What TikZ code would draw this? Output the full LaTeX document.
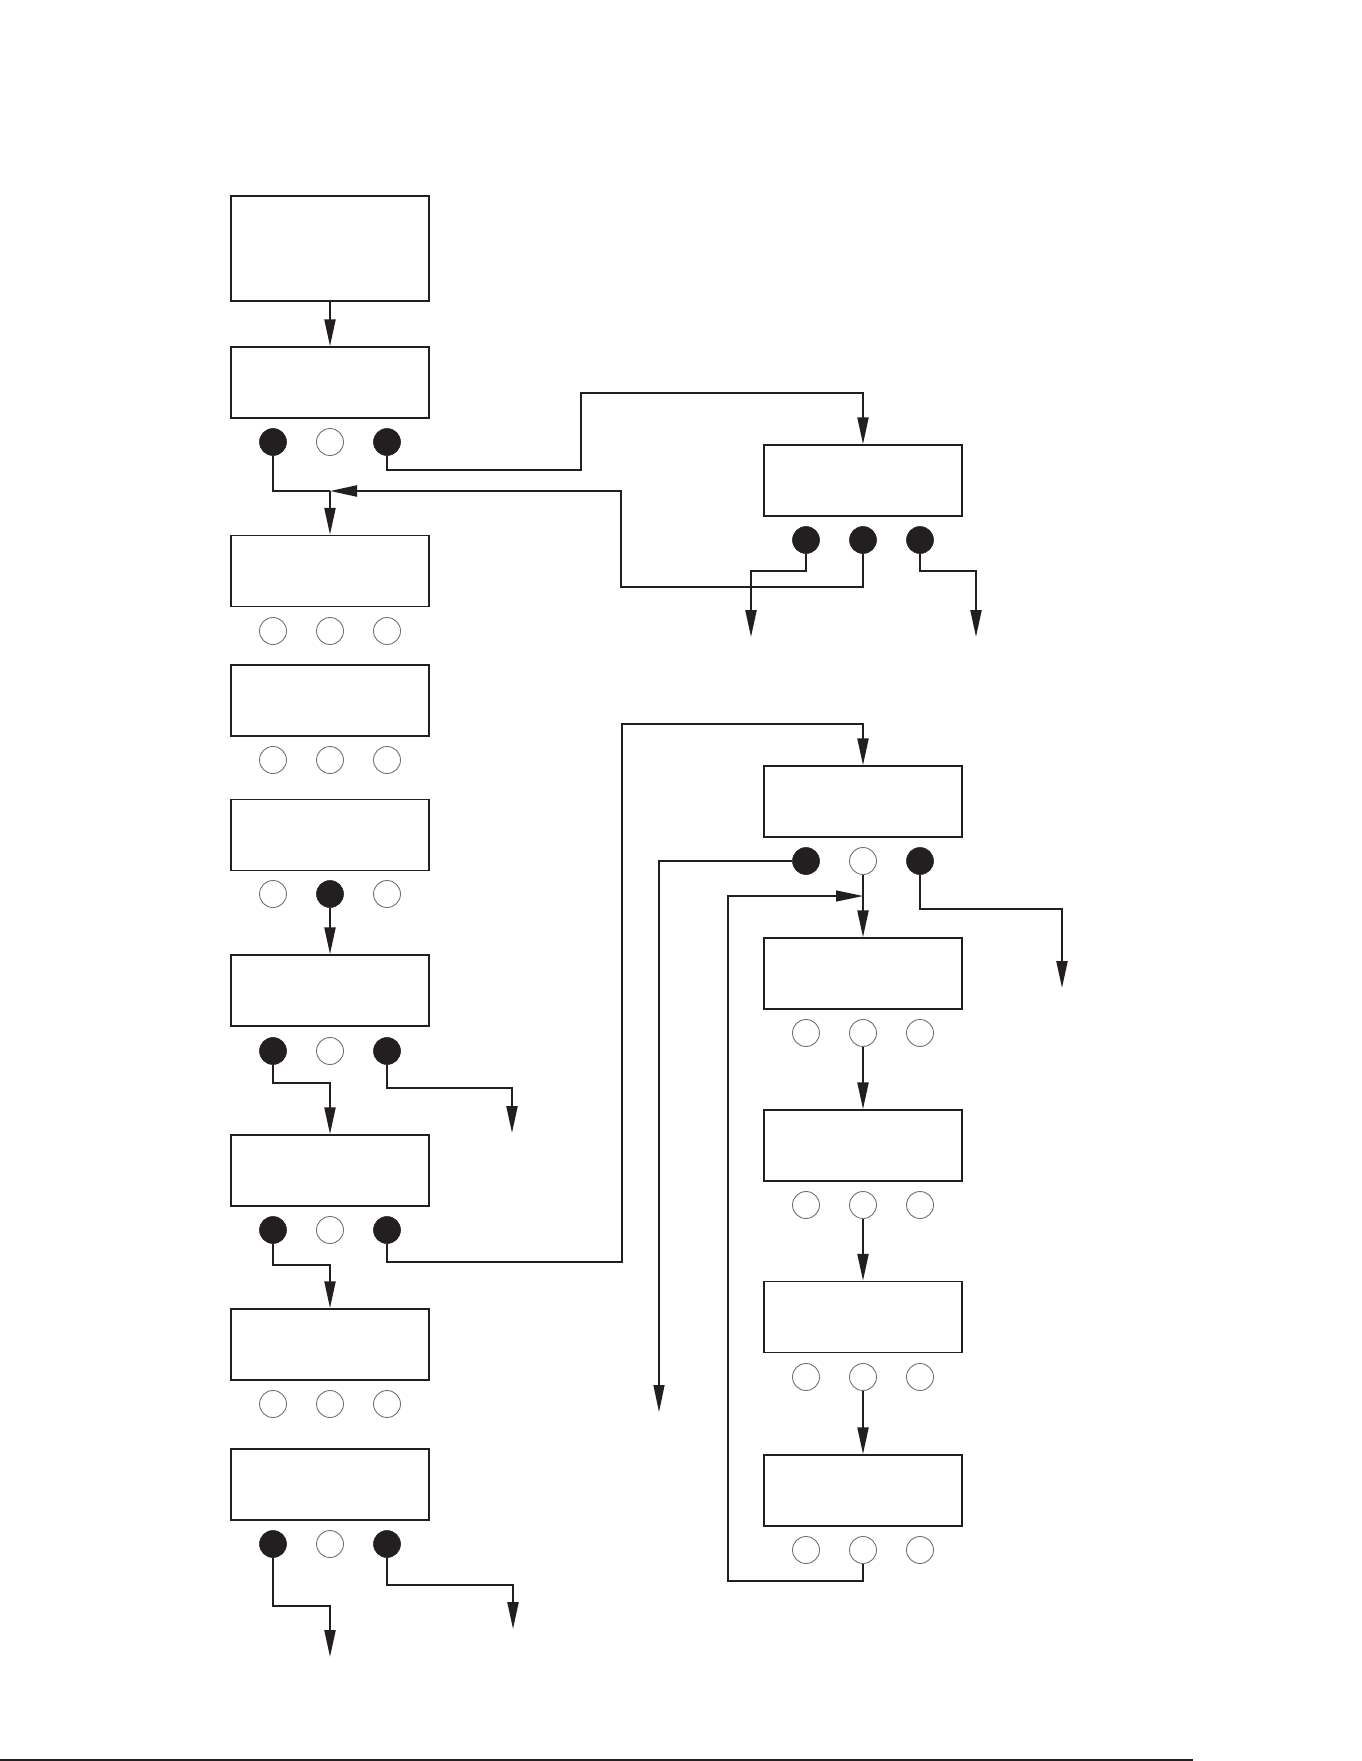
\documentclass[tikz,border=0pt]{standalone}
\usetikzlibrary{arrows.meta}
\definecolor{ink}{RGB}{35,31,32}
\newcommand\btnrow[6]{%
  \node[#4] (#1a) at ({#2-57},#3) {};
  \node[#5] (#1b) at (#2,#3) {};
  \node[#6] (#1c) at ({#2+57},#3) {};
}
\tikzset{
  box/.style={draw=ink, line width=0.75pt, minimum width=99pt, minimum height=35.5pt, inner sep=0pt},
  on/.style={circle, fill=ink, draw=ink, line width=0.3pt, minimum size=13.5pt, inner sep=0pt},
  off/.style={circle, draw=black!55, fill=white, line width=0.45pt, minimum size=13.5pt, inner sep=0pt},
  conn/.style={draw=ink, line width=1.1pt},
  thinconn/.style={draw=ink, line width=0.65pt},
  tip/.style={-{Triangle[length=13.5pt,width=5.5pt]}},
}
\begin{document}
\begin{tikzpicture}[x=0.5pt,y=-0.5pt]
\useasboundingbox (0,0) rectangle (1361,1761);
% left column
\node[box, minimum height=52.5pt] (b1) at (330,248.5) {};
\node[box] (b2) at (330,382.5) {};
\btnrow{b2}{330}{442}{on}{off}{on}
\node[box] (b3) at (330,571) {};
\btnrow{b3}{330}{631}{off}{off}{off}
\node[box] (b4) at (330,700.5) {};
\btnrow{b4}{330}{760}{off}{off}{off}
\node[box] (b5) at (330,835) {};
\btnrow{b5}{330}{894}{off}{on}{off}
\node[box] (b6) at (330,990.5) {};
\btnrow{b6}{330}{1051}{on}{off}{on}
\node[box] (b7) at (330,1170.5) {};
\btnrow{b7}{330}{1230}{on}{off}{on}
\node[box] (b8) at (330,1344.5) {};
\btnrow{b8}{330}{1404}{off}{off}{off}
\node[box] (b9) at (330,1484.5) {};
\btnrow{b9}{330}{1544}{on}{off}{on}
% right column
\node[box] (r1) at (863,480.5) {};
\btnrow{r1}{863}{540}{on}{on}{on}
\node[box] (r2) at (863,801.5) {};
\btnrow{r2}{863}{861}{on}{off}{on}
\node[box] (r3) at (863,973.5) {};
\btnrow{r3}{863}{1033}{off}{off}{off}
\node[box] (r4) at (863,1145.5) {};
\btnrow{r4}{863}{1205}{off}{off}{off}
\node[box] (r5) at (863,1317) {};
\btnrow{r5}{863}{1377}{off}{off}{off}
\node[box] (r6) at (863,1490.5) {};
\btnrow{r6}{863}{1550}{off}{off}{off}
% bend and end coordinates
\coordinate (j1) at (330,491);
\coordinate (p1) at (581,470);
\coordinate (p2) at (581,393);
\coordinate (q1) at (621,587);
\coordinate (q2) at (621,491);
\coordinate (e1m) at (751,571);
\coordinate (e1) at (751,637);
\coordinate (e2m) at (976,571);
\coordinate (e2) at (976,637);
\coordinate (f1) at (330,1083);
\coordinate (f2m) at (512,1088);
\coordinate (f2) at (512,1133);
\coordinate (g1) at (330,1265);
\coordinate (g2) at (622,1262);
\coordinate (g3) at (622,724);
\coordinate (h1m) at (330,1606);
\coordinate (h1) at (330,1657);
\coordinate (h2m) at (513,1585);
\coordinate (h2) at (513,1629);
\coordinate (m1) at (659,1412);
\coordinate (j2) at (863,896);
\coordinate (l1) at (728,1581);
\coordinate (l2) at (728,896);
\coordinate (n1m) at (1062,909);
\coordinate (n1) at (1062,988);
% connectors
\draw[conn,tip] (b1.south) -- (b2.north);
\draw[conn] (b2a.south) |- (j1);
\draw[conn,tip] (j1) -- (b3.north);
\draw[conn,tip] (b2c.south) |- (p1) -- (p2) -| (r1.north);
\draw[conn,tip] (r1b.south) |- (q1) -- (q2) -- (j1);
\draw[conn,tip] (r1a.south) |- (e1m) -- (e1);
\draw[conn,tip] (r1c.south) |- (e2m) -- (e2);
\draw[conn,tip] (b5b.south) -- (b6.north);
\draw[conn,tip] (b6a.south) |- (f1) -- (b7.north);
\draw[conn,tip] (b6c.south) |- (f2m) -- (f2);
\draw[conn,tip] (b7a.south) |- (g1) -- (b8.north);
\draw[conn,tip] (b7c.south) |- (g2) -- (g3) -| (r2.north);
\draw[conn,tip] (b9a.south) |- (h1m) -- (h1);
\draw[conn,tip] (b9c.south) |- (h2m) -- (h2);
\draw[thinconn,tip] (r2a.west) -| (m1);
\draw[conn,tip] (r2b.south) -- (r3.north);
\draw[thinconn,tip] (r6b.south) |- (l1) -- (l2) -- (j2);
\draw[conn,tip] (r2c.south) |- (n1m) -- (n1);
\draw[conn,tip] (r3b.south) -- (r4.north);
\draw[conn,tip] (r4b.south) -- (r5.north);
\draw[conn,tip] (r5b.south) -- (r6.north);
% bottom rule
\draw[ink, line width=0.9pt] (0,1760) -- (1193,1760);
\end{tikzpicture}
\end{document}
